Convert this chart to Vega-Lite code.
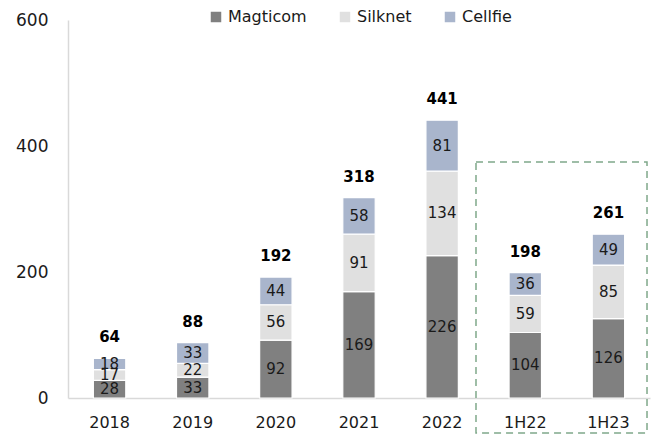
{
  "$schema": "https://vega.github.io/schema/vega-lite/v6.json",
  "width": 582,
  "height": 378,
  "autosize": "none",
  "padding": {"left": 68, "top": 20, "right": 6, "bottom": 36},
  "background": "white",
  "config": {
    "view": {"stroke": null},
    "font": "DejaVu Sans",
    "axis": {"labelFont": "DejaVu Sans", "labelFontSize": 15, "labelColor": "#1a1a1a", "domainColor": "#d9d9d9", "domainWidth": 1.5, "ticks": false, "grid": false, "title": null},
    "legend": {"labelFont": "DejaVu Sans", "labelFontSize": 15, "labelColor": "#1a1a1a"}
  },
  "datasets": {
    "seg": [
      {"cat": "2018", "company": "Magticom", "ord": 1, "value": 28},
      {"cat": "2018", "company": "Silknet", "ord": 2, "value": 17},
      {"cat": "2018", "company": "Cellfie", "ord": 3, "value": 18},
      {"cat": "2019", "company": "Magticom", "ord": 1, "value": 33},
      {"cat": "2019", "company": "Silknet", "ord": 2, "value": 22},
      {"cat": "2019", "company": "Cellfie", "ord": 3, "value": 33},
      {"cat": "2020", "company": "Magticom", "ord": 1, "value": 92},
      {"cat": "2020", "company": "Silknet", "ord": 2, "value": 56},
      {"cat": "2020", "company": "Cellfie", "ord": 3, "value": 44},
      {"cat": "2021", "company": "Magticom", "ord": 1, "value": 169},
      {"cat": "2021", "company": "Silknet", "ord": 2, "value": 91},
      {"cat": "2021", "company": "Cellfie", "ord": 3, "value": 58},
      {"cat": "2022", "company": "Magticom", "ord": 1, "value": 226},
      {"cat": "2022", "company": "Silknet", "ord": 2, "value": 134},
      {"cat": "2022", "company": "Cellfie", "ord": 3, "value": 81},
      {"cat": "1H22", "company": "Magticom", "ord": 1, "value": 104},
      {"cat": "1H22", "company": "Silknet", "ord": 2, "value": 59},
      {"cat": "1H22", "company": "Cellfie", "ord": 3, "value": 36},
      {"cat": "1H23", "company": "Magticom", "ord": 1, "value": 126},
      {"cat": "1H23", "company": "Silknet", "ord": 2, "value": 85},
      {"cat": "1H23", "company": "Cellfie", "ord": 3, "value": 49}
    ],
    "tot": [
      {"cat": "2018", "total": 64},
      {"cat": "2019", "total": 88},
      {"cat": "2020", "total": 192},
      {"cat": "2021", "total": 318},
      {"cat": "2022", "total": 441},
      {"cat": "1H22", "total": 198},
      {"cat": "1H23", "total": 261}
    ],
    "box": [
      {"start": "1H22", "end": "1H23", "top": 374.6, "bottom": -55.6}
    ]
  },
  "layer": [
    {
      "data": {"name": "seg"},
      "transform": [
        {"stack": "value", "groupby": ["cat"], "sort": [{"field": "ord"}], "as": ["y0", "y1"]},
        {"calculate": "(datum.y0 + datum.y1) / 2", "as": "ymid"}
      ],
      "layer": [
        {
          "mark": {"type": "bar", "stroke": "white", "strokeWidth": 1.2},
          "encoding": {
            "x": {"field": "cat", "type": "nominal", "sort": null, "scale": {"domain": ["2018", "2019", "2020", "2021", "2022", "1H22", "1H23"], "paddingInner": 0.61, "paddingOuter": 0.305}, "axis": {"labelAngle": 0, "labelPadding": 16, "labelFontSize": 16}},
            "y": {"field": "y1", "type": "quantitative", "scale": {"domain": [0, 600]}, "axis": {"values": [0, 200, 400, 600], "labelPadding": 20, "labelFontSize": 17}},
            "y2": {"field": "y0"},
            "color": {"field": "company", "type": "nominal", "scale": {"domain": ["Magticom", "Silknet", "Cellfie"], "range": ["#808080", "#e0e0e0", "#a9b5cc"]}, "legend": {"orient": "none", "direction": "horizontal", "legendX": 140, "legendY": -11, "title": null, "symbolType": "square", "symbolSize": 110, "columnPadding": 30, "labelFontSize": 16, "symbolStrokeWidth": 0}}
          }
        },
        {
          "mark": {"type": "text", "fontSize": 15, "color": "#1a1a1a", "baseline": "middle"},
          "encoding": {
            "x": {"field": "cat", "type": "nominal", "sort": null},
            "y": {"field": "ymid", "type": "quantitative"},
            "text": {"field": "value", "type": "quantitative"}
          }
        }
      ]
    },
    {
      "data": {"name": "tot"},
      "mark": {"type": "text", "fontSize": 15, "fontWeight": "bold", "color": "#000000", "baseline": "alphabetic", "dy": -16},
      "encoding": {
        "x": {"field": "cat", "type": "nominal", "sort": null},
        "y": {"field": "total", "type": "quantitative"},
        "text": {"field": "total", "type": "quantitative"}
      }
    },
    {
      "data": {"name": "box"},
      "mark": {"type": "rect", "fill": null, "stroke": "#7fa88a", "strokeWidth": 1.5, "strokeDash": [7, 5]},
      "encoding": {
        "x": {"field": "start", "type": "nominal", "bandPosition": -1.02, "sort": null},
        "x2": {"field": "end", "bandPosition": 1.69},
        "y": {"field": "top", "type": "quantitative"},
        "y2": {"field": "bottom"}
      }
    }
  ]
}
